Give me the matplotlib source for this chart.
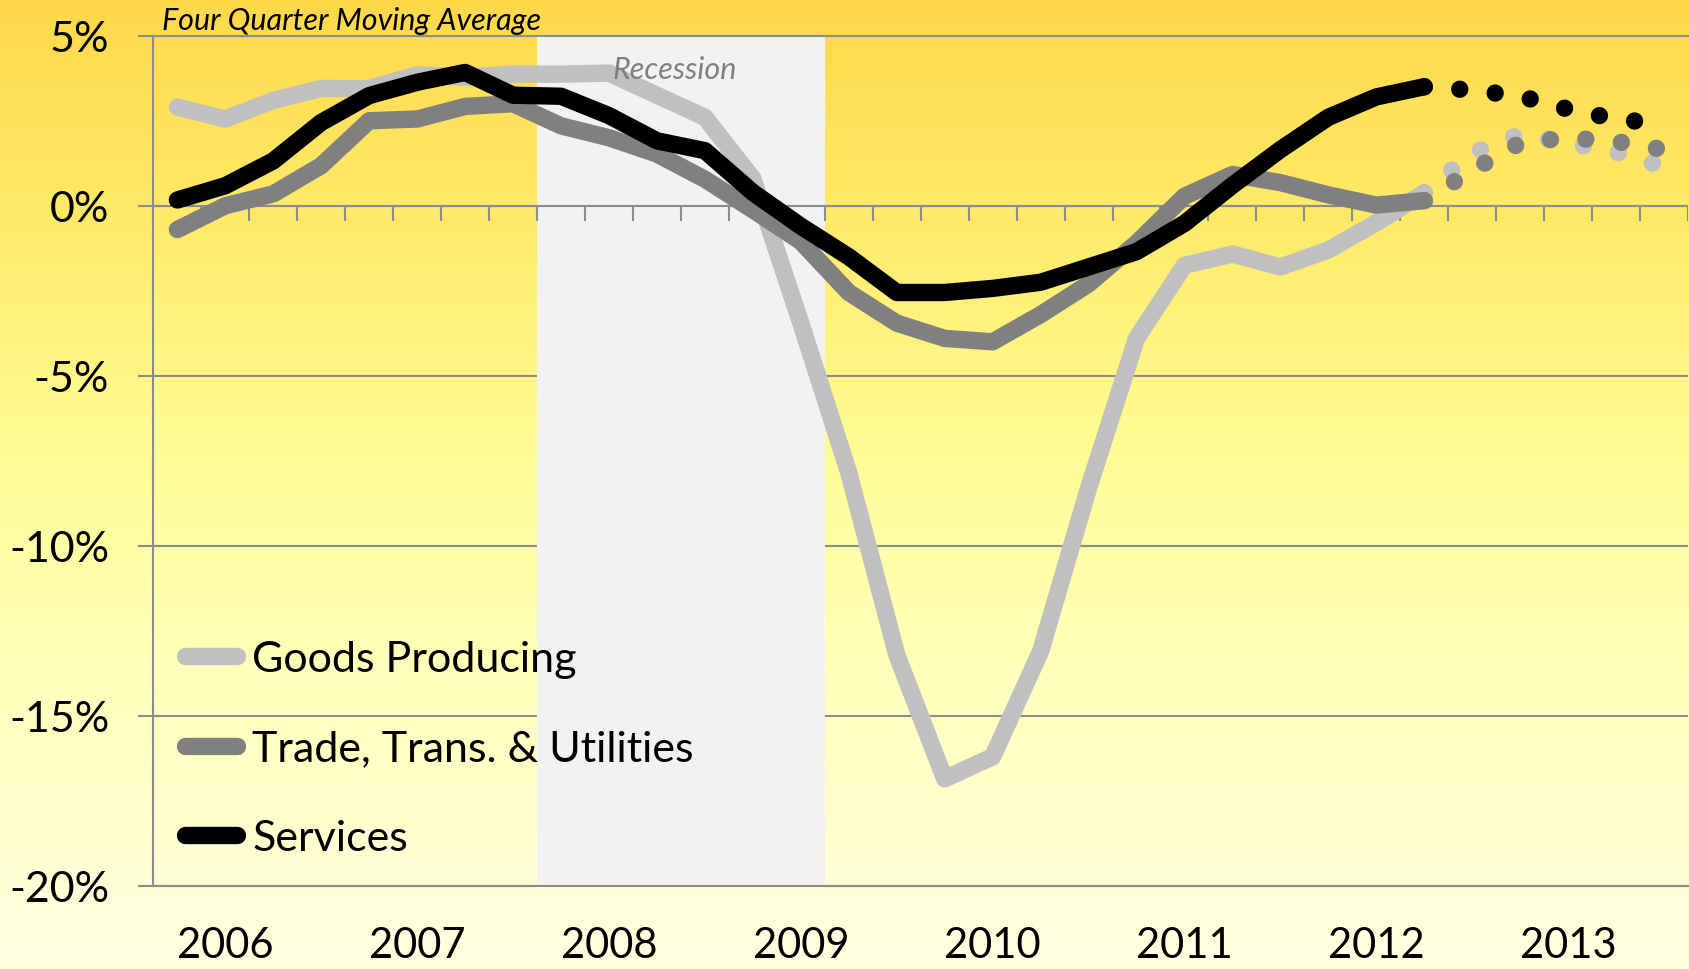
import numpy as np
import matplotlib
matplotlib.use("Agg")
import matplotlib.pyplot as plt
from matplotlib.colors import LinearSegmentedColormap

# ---------------- data (percent, four-quarter moving average) ----------------
years = ['2006', '2007', '2008', '2009', '2010', '2011', '2012', '2013']
series_names = ['Goods Producing', 'Trade, Trans. & Utilities', 'Services']

# actuals: 2006Q1 .. 2012Q3 (27 quarters)
goods = [2.9, 2.55, 3.1, 3.45, 3.45, 3.85, 3.78, 3.87, 3.87, 3.9, 3.25, 2.6,
         0.8, -3.45, -7.85, -13.2, -16.85, -16.2, -13.1, -8.3, -3.9, -1.75,
         -1.42, -1.8, -1.3, -0.5, 0.38]
trade = [-0.7, 0.0, 0.35, 1.18, 2.5, 2.55, 2.92, 3.0, 2.35, 2.0, 1.52, 0.78,
         -0.12, -1.05, -2.55, -3.45, -3.9, -4.0, -3.2, -2.3, -1.1, 0.28,
         0.92, 0.68, 0.32, 0.02, 0.15]
services = [0.17, 0.59, 1.32, 2.45, 3.24, 3.63, 3.92, 3.25, 3.22, 2.65, 1.91,
            1.62, 0.39, -0.6, -1.5, -2.55, -2.55, -2.43, -2.25, -1.8, -1.35,
            -0.52, 0.6, 1.65, 2.6, 3.2, 3.5]

# forecasts: 2012Q3 .. 2013Q4 (6 quarters, first one joins the actuals)
goods_fc = [0.38, 1.55, 2.1, 1.85, 1.58, 1.15]
trade_fc = [0.15, 1.04, 1.85, 2.0, 1.89, 1.65]
services_fc = [3.5, 3.4, 3.22, 2.84, 2.55, 2.4]

recession_start_q = 8    # 2008Q1
recession_end_q = 14     # through 2009Q2
n_quarters = 32

yticks = [5, 0, -5, -10, -15, -20]

# ---------------- styling ----------------
FONT = ['Lato', 'DejaVu Sans']
plt.rcParams['font.family'] = FONT
GRID = '#8C8C8C'
colors = ['#C0C0C0', '#808080', '#000000']
LW = 12.5
FS = 31

W, H = 1690, 970
fig = plt.figure(figsize=(W / 100, H / 100), dpi=100)

# background gradient
bg = fig.add_axes([0, 0, 1, 1], zorder=-10)
cmap = LinearSegmentedColormap.from_list('bg', [
    (0.0, '#FFD84A'), (0.22, '#FFEA68'), (0.45, '#FFFB92'),
    (0.65, '#FFFFB4'), (1.0, '#FFFFE2')])
bg.imshow(np.linspace(0, 1, 512).reshape(-1, 1), cmap=cmap, aspect='auto',
          extent=[0, 1, 0, 1], origin='upper')
bg.set_axis_off()

left, right, top, bottom = 153.4, 1688, 36.7, 887
ax = fig.add_axes([left / W, 1 - bottom / H, (right - left) / W, (bottom - top) / H])
ax.patch.set_alpha(0)
ax.set_xlim(0, n_quarters)
ax.set_ylim(-20, 5)

# gridlines (under recession shade)
ax.set_axisbelow(True)
ax.set_yticks(yticks)
ax.set_yticklabels([f'{t}%' for t in yticks])
ax.yaxis.grid(True, color=GRID, linewidth=1.5)
ax.tick_params(axis='y', length=10.8, width=1.5, color=GRID, pad=21, labelsize=FS)

ax.set_xticks([4 * k + 1.5 for k in range(len(years))])
ax.set_xticklabels(years)
ax.tick_params(axis='x', length=0, pad=29, labelsize=30)

for s in ['top', 'bottom', 'left']:
    ax.spines[s].set_color(GRID)
    ax.spines[s].set_linewidth(1.5)
ax.spines['right'].set_visible(False)

# recession shading
ax.axvspan(recession_start_q, recession_end_q, color='#F2F2F2', zorder=1, lw=0)
ax.text((recession_start_q + recession_end_q) / 2 - 0.12, 3.76, 'Recession',
        ha='center', va='baseline', fontsize=22, style='italic', color='#808080',
        zorder=5)

# category axis at 0 with quarter ticks
ax.axhline(0, color=GRID, linewidth=1.5, zorder=1.5)
ax.vlines(np.arange(1, n_quarters + 1), -15 / 34, 0, color=GRID, linewidth=1.5,
          zorder=1.5)

# lines
x_act = np.arange(len(goods)) + 0.5
x_fc = np.arange(len(goods) - 1, len(goods) - 1 + len(goods_fc)) + 0.5
handles = []
for vals, fc, c in zip([goods, trade, services], [goods_fc, trade_fc, services_fc], colors):
    ln, = ax.plot(x_act, vals, color=c, lw=LW, solid_capstyle='round',
                  solid_joinstyle='round', zorder=3)
    ax.plot(x_fc, fc, color=c, lw=LW, linestyle=(0, (0.001, 2.05)),
            dash_capstyle='round', zorder=3)
    handles.append(ln)

ax.text(0.18, 5.2, 'Four Quarter Moving Average', ha='left', va='baseline',
        fontsize=22, style='italic', color='black', transform=ax.transData,
        clip_on=False)

leg = ax.legend(handles, series_names, loc='upper left',
                bbox_to_anchor=(184.7 / W, 1 - 641 / H), bbox_transform=fig.transFigure,
                frameon=False, fontsize=FS, handlelength=1.21, handletextpad=0.36,
                labelspacing=1.2, borderpad=0, borderaxespad=0)
leg.set_zorder(4)

fig.savefig('out.png', dpi=100)
